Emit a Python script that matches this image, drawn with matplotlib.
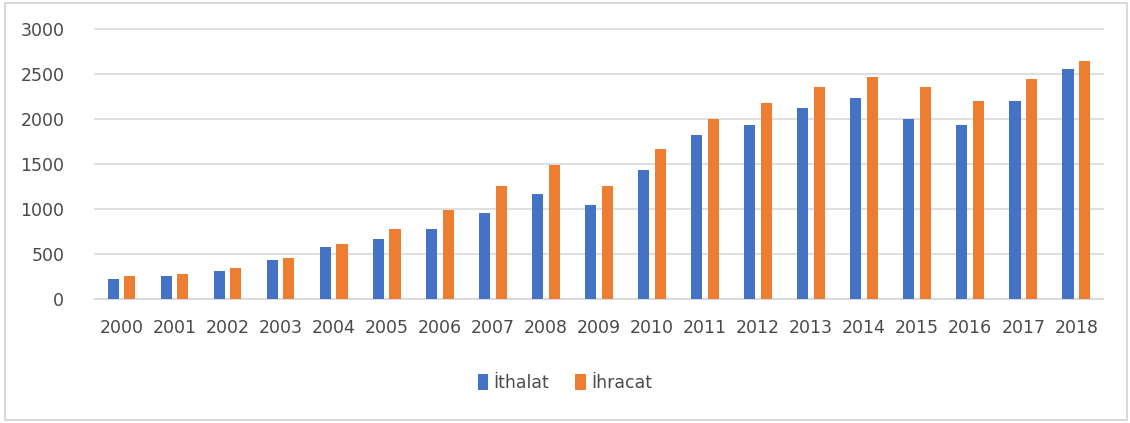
import numpy as np
import matplotlib
matplotlib.use("Agg")
import matplotlib.pyplot as plt
from matplotlib.patches import Rectangle

years = [str(y) for y in range(2000, 2019)]
ithalat = [222, 252, 307, 429, 577, 666, 784, 962, 1169, 1051,
           1436, 1820, 1939, 2120, 2239, 2002, 1939, 2205, 2560]
ihracat = [252, 281, 340, 459, 607, 784, 995, 1258, 1495, 1258,
           1672, 2002, 2176, 2353, 2472, 2353, 2205, 2442, 2649]
yticks = [0, 500, 1000, 1500, 2000, 2500, 3000]

blue = "#4472C4"
orange = "#ED7D31"
txt = "#4a4a4a"
grid = "#d9d9d9"

plt.rcParams["font.family"] = ["DejaVu Sans"]

fig = plt.figure(figsize=(11.3, 4.23), dpi=100)
ax = fig.add_axes([0.084, 0.293, 0.892, 0.638])

x = np.arange(len(years))
w = 0.21
off = 0.157
ax.bar(x - off, ithalat, w, color=blue, label="İthalat", zorder=3)
ax.bar(x + off, ihracat, w, color=orange, label="İhracat", zorder=3)

ax.set_xlim(-0.5, len(years) - 0.5)
ax.set_ylim(0, 3000)
ax.set_yticks(yticks)
ax.set_xticks(x)
ax.set_xticklabels(years)
ax.grid(axis="y", color=grid, linewidth=1.2, zorder=0)
for gl in ax.get_ygridlines():
    gl.set_clip_on(False)
ax.tick_params(length=0, labelsize=12.5, colors=txt)
ax.tick_params(axis="y", pad=22)
ax.tick_params(axis="x", pad=14)
for s in ["top", "right", "left"]:
    ax.spines[s].set_visible(False)
ax.spines["bottom"].set_color(grid)
ax.spines["bottom"].set_linewidth(1.2)

leg = fig.legend(loc="center", bbox_to_anchor=(0.5, 0.095), ncol=2, frameon=False,
                 fontsize=12.5, handlelength=0.6, handleheight=1.0,
                 handletextpad=0.3, columnspacing=1.5)
for t in leg.get_texts():
    t.set_color(txt)

fig.patches.append(Rectangle((0.004, 0.007), 0.993, 0.985, transform=fig.transFigure,
                             fill=False, edgecolor=grid, linewidth=1.5))

fig.savefig("out.png", dpi=100, facecolor="white")
